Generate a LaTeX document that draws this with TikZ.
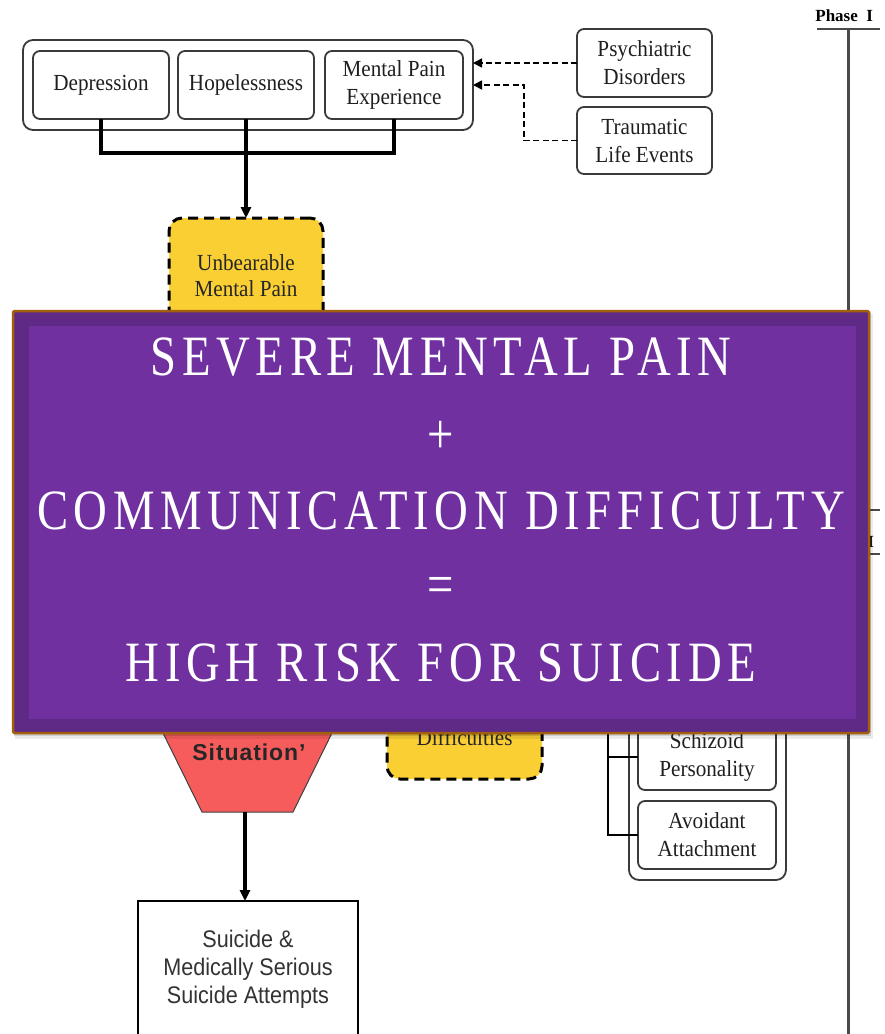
\documentclass[tikz,border=0pt]{standalone}
\usepackage{fontspec}
\setmainfont{Liberation Serif}
\newfontfamily\boxfont[FakeStretch=0.92]{Liberation Serif}
\newfontfamily\labelsans[FakeStretch=0.9]{Liberation Sans}
\newfontfamily\situationfont[LetterSpace=4]{Liberation Sans}
\newfontfamily\bannerfont[FakeStretch=0.82,LetterSpace=10]{Liberation Serif}
\usetikzlibrary{arrows.meta,calc}

\definecolor{boxline}{HTML}{3A3A3A}
\definecolor{paleyellow}{HTML}{F9CF33}
\definecolor{funnelred}{HTML}{F75C5C}
\definecolor{bannerpurple}{HTML}{7030A0}
\definecolor{bannerdark}{HTML}{5E2A86}
\definecolor{bannerrim}{HTML}{A2600E}
\definecolor{phasegray}{HTML}{4A4A4A}

\begin{document}
\begin{tikzpicture}[x=1pt,y=-1pt,
  every node/.style={inner sep=0pt, outer sep=0pt},
  factor/.style={draw=boxline, line width=1.8pt, rounded corners=7pt, fill=white,
    align=center, text=black!88, font=\boxfont\fontsize{23}{28}\selectfont},
  groupbox/.style={draw=boxline, line width=1.8pt, rounded corners=10pt},
  alertbox/.style={draw=black, line width=3pt, dash pattern=on 10pt off 6pt,
    rounded corners=13pt, fill=paleyellow, align=center, text=black!85,
    font=\boxfont\fontsize{23}{26}\selectfont},
  conn/.style={draw=black, line width=3.2pt},
  link/.style={conn, -{Triangle[length=11pt,width=10pt]}},
  dlink/.style={draw=black, line width=1.7pt, dash pattern=on 6pt off 3.5pt,
    -{Triangle[length=9pt,width=9pt]}},
  phaseline/.style={draw=phasegray, line width=2.2pt},
  phaselabel/.style={font=\bfseries\fontsize{17}{20}\selectfont, anchor=east},
  bannertext/.style={text=white, font=\bannerfont\fontsize{57}{60}\selectfont}
]
\path[use as bounding box] (0,0) rectangle (885,1034);
\clip (0,0) rectangle (885,1034);
\fill[white] (0,0) rectangle (885,1034);

% ---- phase timeline on the right ----
\node[phaselabel] (ph1) at (873,16) {Phase\ \ I};
\node[phaselabel] (ph2) at (874,542) {I};
\coordinate (p1a) at (817,29);  \coordinate (p1b) at (880,29);
\coordinate (p1c) at (817,510); \coordinate (p1d) at (880,510);
\coordinate (p2a) at (817,554); \coordinate (p2b) at (880,554);
\draw[phaseline] (p1a) -- (p1b);
\draw[phaseline] ($(p1a)!0.5!(p1b)$) -- ($(p1c)!0.5!(p1d)$);
\draw[phaseline] (p1c) -- (p1d);
\draw[phaseline] (p2a) -- (p2b);
\draw[phaseline] ($(p2a)!0.5!(p2b)$) -- ++(0,490);

% ---- risk factors ----
\node[groupbox, minimum width=450, minimum height=90] (grp1) at (248,85) {};
\node[factor, minimum width=136, minimum height=68] (dep) at (101,85) {Depression};
\node[factor, minimum width=136, minimum height=68] (hop) at (246,85) {Hopelessness};
\node[factor, minimum width=138, minimum height=68] (mpe) at (394,85) {Mental Pain\\Experience};

\node[factor, minimum width=135, minimum height=68] (psy) at (644.5,63) {Psychiatric\\Disorders};
\node[factor, minimum width=135, minimum height=67] (trau) at (644.5,140.5) {Traumatic\\Life Events};

\draw[dlink] (psy.west) -- (psy.west -| grp1.east);
\draw[dlink] (trau.west) -- ++(-53,0) |- (grp1.east);

\node[alertbox, minimum width=154, minimum height=116, anchor=north] (unb) at (246,218) {Unbearable\\Mental Pain};
\draw[conn] (dep.south) -- ++(0,34) -| (mpe.south);
\draw[link] (hop.south) -- (unb.north);

% ---- communication difficulties ----
\node[alertbox, minimum width=155, minimum height=82] (dif) at (464.5,738) {Difficulties};

% ---- personality group ----
\node[groupbox, minimum width=157, minimum height=200, anchor=south] (pgrp) at (707.5,880) {};
\node[factor, minimum width=138, minimum height=66] (schz) at (707,757) {Schizoid\\Personality};
\node[factor, minimum width=138, minimum height=68] (avo) at (707,835) {Avoidant\\Attachment};
\coordinate (brk) at (608,690);
\draw[conn, line width=2.6pt] (brk) |- (avo.west);
\draw[conn, line width=2.6pt] (brk |- schz.west) -- (schz.west);

% ---- funnel and outcome ----
\coordinate (fTL) at (122,650); \coordinate (fTR) at (373,650);
\coordinate (fBR) at (293,812); \coordinate (fBL) at (202,812);
\filldraw[fill=funnelred, draw=black!75, line width=1pt] (fTL) -- (fTR) -- (fBR) -- (fBL) -- cycle;
\node[font=\situationfont\bfseries\fontsize{23}{26}\selectfont, text=black!85] (sit) at (249,752) {Situation’};
\coordinate (sitB) at (245,812);

\node[draw=black, line width=2.4pt, minimum width=220, minimum height=136, anchor=north,
  align=center, text=black!80, font=\labelsans\fontsize{24}{28}\selectfont] (sui) at (248,901)
  {Suicide \&\\Medically Serious\\Suicide Attempts};
\draw[link] (sitB) -- (sitB |- sui.north);

% ---- banner ----
\fill[black, opacity=0.08] (15,314) rectangle (873,739);
\fill[black, opacity=0.12] (14,313) rectangle (871,736);
\filldraw[fill=bannerdark, draw=bannerrim, line width=2.5pt, rounded corners=1.5pt] (13,311) rectangle (869,733);
\fill[bannerpurple] (29,326) rectangle (856,719);

\node[bannertext] (b1) at (441,357) {SEVERE MENTAL PAIN};
\node[bannertext] (b2) at (441,437) {+};
\node[bannertext] (b3) at (441,511) {COMMUNICATION DIFFICULTY};
\node[bannertext] (b4) at (441,590) {=};
\node[bannertext] (b5) at (441,663) {HIGH RISK FOR SUICIDE};
\end{tikzpicture}
\end{document}
